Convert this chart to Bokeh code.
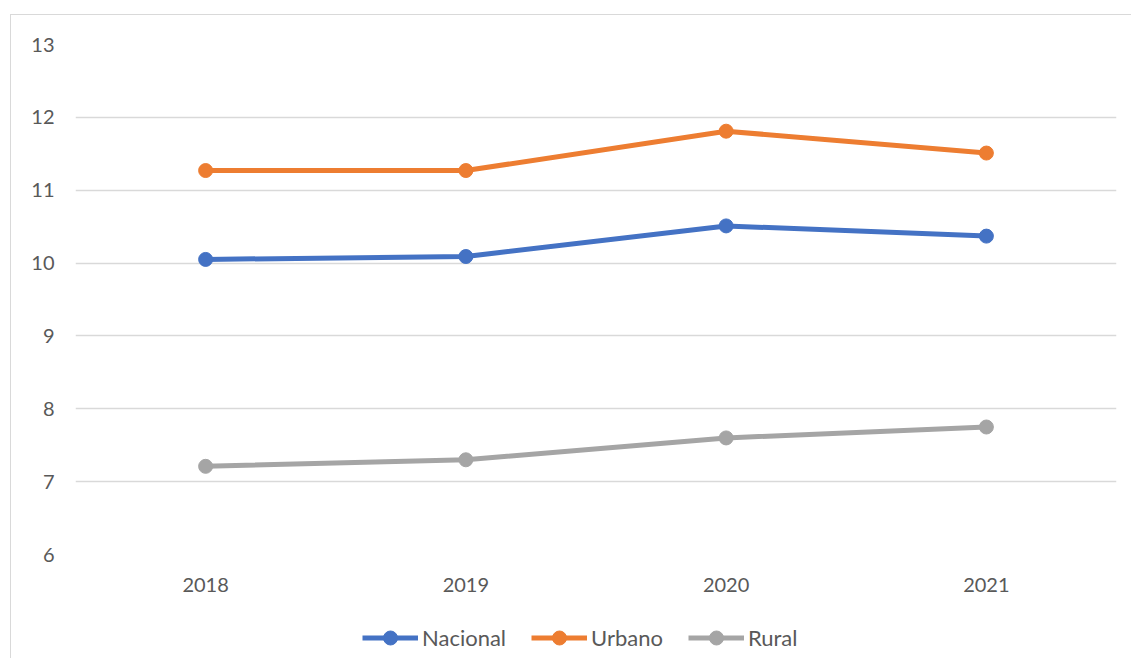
from bokeh.plotting import figure
from bokeh.models import FactorRange, Range1d, FixedTicker, Legend, LegendItem
from bokeh.layouts import column
from bokeh.embed import file_html
from bokeh.resources import INLINE

years = ["2018", "2019", "2020", "2021"]
nacional = [10.05, 10.09, 10.51, 10.37]
urbano = [11.27, 11.27, 11.81, 11.51]
rural = [7.21, 7.30, 7.60, 7.75]
y_ticks = [6, 7, 8, 9, 10, 11, 12, 13]

series = [("Nacional", nacional, "#4472C4"),
          ("Urbano", urbano, "#ED7D31"),
          ("Rural", rural, "#A5A5A5")]

FONT = "Lato"

p = figure(frame_width=1041, frame_height=510, x_range=FactorRange(*years, range_padding=0),
           y_range=Range1d(6, 13), output_backend="svg", toolbar_location=None,
           min_border_left=64, min_border_right=15, min_border_top=29, min_border_bottom=60)
p.outline_line_color = None
p.background_fill_color = "white"
p.border_fill_color = "white"

for name, vals, col in series:
    p.line(years, vals, line_color=col, line_width=5)
    p.scatter(years, vals, size=14, fill_color=col, line_color=col)

p.xgrid.grid_line_color = None
p.ygrid.grid_line_color = "#d9d9d9"
p.ygrid.grid_line_width = 1.5
p.yaxis.ticker = FixedTicker(ticks=y_ticks)

for ax in (p.xaxis[0], p.yaxis[0]):
    ax.axis_line_color = None
    ax.major_tick_line_color = None
    ax.minor_tick_line_color = None
    ax.major_tick_out = 0
    ax.major_tick_in = 0
    ax.major_label_text_font = FONT
    ax.major_label_text_font_size = "20px"
    ax.major_label_text_color = "#595959"
p.yaxis.major_label_standoff = 21
p.xaxis.major_label_standoff = 23

# legend in its own strip below the chart
leg = figure(width=1120, height=44, x_range=Range1d(0, 1), y_range=Range1d(0, 1),
             x_axis_location=None, y_axis_location=None,
             output_backend="svg", toolbar_location=None,
             min_border_left=0, min_border_right=0, min_border_top=0, min_border_bottom=0)
leg.outline_line_color = None
leg.grid.visible = False
items = []
for name, vals, col in series:
    r1 = leg.line(x=[-10, -9], y=[-10, -9], line_color=col, line_width=5)
    r2 = leg.scatter(x=[-10], y=[-10], size=14, fill_color=col, line_color=col)
    items.append(LegendItem(label=name, renderers=[r1, r2]))
legend = Legend(items=items, orientation="horizontal", location=(287, 3),
                glyph_width=56, glyph_height=35, label_standoff=4, spacing=25,
                label_text_font=FONT, label_text_font_size="22px",
                label_text_color="#595959", border_line_color=None,
                background_fill_alpha=0, margin=0, padding=0)
leg.add_layout(legend, "center")

layout = column(p, leg, spacing=0,
                styles={"border-left": "1px solid #d9d9d9", "border-top": "1px solid #d9d9d9",
                        "position": "relative", "left": "10px", "top": "14px"})
open("out.html", "w").write(file_html(layout, INLINE))
